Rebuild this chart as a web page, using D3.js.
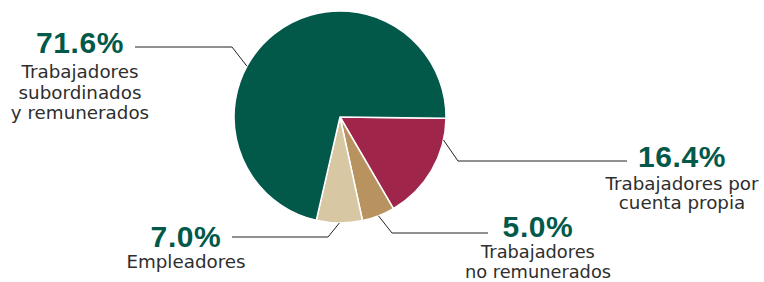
<!DOCTYPE html>
<html><head><meta charset="utf-8">
<script src="https://cdn.jsdelivr.net/npm/d3@7"></script>
<style>html,body{margin:0;padding:0;background:#fff;}svg{display:block;}</style>
</head><body>
<svg id="chart" width="764" height="282"></svg>
<script>
const categories = ["Trabajadores por cuenta propia", "Trabajadores no remunerados", "Empleadores", "Trabajadores subordinados y remunerados"];
const values = [16.4, 5.0, 7.0, 71.6];
const valueLabels = ["16.4%", "5.0%", "7.0%", "71.6%"];
const labelLines = [["Trabajadores por", "cuenta propia"], ["Trabajadores", "no remunerados"], ["Empleadores"], ["Trabajadores", "subordinados", "y remunerados"]];
const colors = ["#A0254A", "#B8935F", "#D8C7A3", "#02594A"];

const svg = d3.select("#chart");
const cx = 340, cy = 117, R = 106;
const startDeg = 90.7;
const toRad = d => d * Math.PI / 180;

const pie = d3.pie().sort(null).value(d => d)
  .startAngle(toRad(startDeg)).endAngle(toRad(startDeg + 360));
const arcs = pie(values);
const arc = d3.arc().innerRadius(0).outerRadius(R);

const g = svg.append("g").attr("transform", `translate(${cx},${cy})`);
g.selectAll("path").data(arcs).join("path")
  .attr("d", arc)
  .attr("fill", (d, i) => colors[i])
  .attr("stroke", "#fff").attr("stroke-width", 1.5).attr("stroke-linejoin", "round");

// label layout: anchor position within slice (fraction), elbow, line end, text position, line offsets
const layout = [
  {frac: 0.2, elbow: [458, 161], end: 627, tx: 682, ty: 167, first: 23, gap: 19, fs: 18.3},
  {frac: 0.5, elbow: [392, 233], end: 488, tx: 538, ty: 236.5, first: 21.5, gap: 19.5, fs: 17.8},
  {frac: 0.5, elbow: [328, 237], end: 232, tx: 186, ty: 246.5, first: 21.5, gap: 20, fs: 18.3},
  {frac: 0.41, elbow: [232, 47], end: 135, tx: 80, ty: 53, first: 25, gap: 20.5, fs: 18.3}
];

arcs.forEach((d, i) => {
  const L = layout[i];
  const a = d.startAngle + (d.endAngle - d.startAngle) * L.frac;
  const p0 = [cx + R * Math.sin(a), cy - R * Math.cos(a)];
  svg.append("polyline")
    .attr("points", [p0, L.elbow, [L.end, L.elbow[1]]].map(p => p.join(",")).join(" "))
    .attr("fill", "none").attr("stroke", "#222").attr("stroke-width", 1);
  svg.append("text")
    .attr("x", L.tx).attr("y", L.ty)
    .attr("text-anchor", "middle")
    .attr("font-family", "Liberation Sans, Arial, sans-serif")
    .attr("font-weight", "bold").attr("font-size", 30)
    .attr("letter-spacing", 0.6)
    .attr("fill", "#02594A")
    .text(valueLabels[i]);
  labelLines[i].forEach((ln, j) => {
    svg.append("text")
      .attr("x", L.tx).attr("y", L.ty + L.first + j * L.gap)
      .attr("text-anchor", "middle")
      .attr("font-family", "DejaVu Sans, sans-serif")
      .attr("font-size", L.fs)
      .attr("fill", "#2e2e2e")
      .text(ln);
  });
});
</script>
</body></html>
